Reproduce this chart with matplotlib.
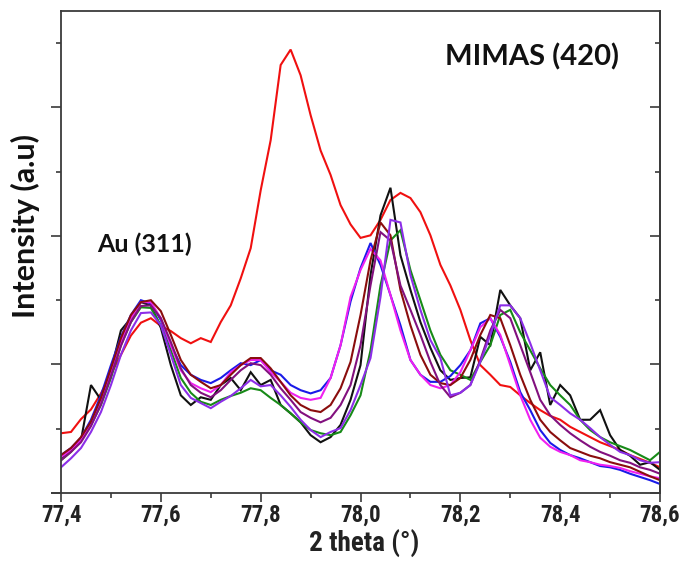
import matplotlib
matplotlib.use("Agg")
import matplotlib.pyplot as plt
from matplotlib import font_manager
from matplotlib.ticker import MultipleLocator, FixedLocator
import numpy as np

# ---------------- data ----------------
two_theta = [77.40, 77.42, 77.44, 77.46, 77.48, 77.50, 77.52, 77.54, 77.56, 77.58,
             77.60, 77.62, 77.64, 77.66, 77.68, 77.70, 77.72, 77.74, 77.76, 77.78,
             77.80, 77.82, 77.84, 77.86, 77.88, 77.90, 77.92, 77.94, 77.96, 77.98,
             78.00, 78.02, 78.04, 78.06, 78.08, 78.10, 78.12, 78.14, 78.16, 78.18,
             78.20, 78.22, 78.24, 78.26, 78.28, 78.30, 78.32, 78.34, 78.36, 78.38,
             78.40, 78.42, 78.44, 78.46, 78.48, 78.50, 78.52, 78.54, 78.56, 78.58,
             78.60]

red = [0.93, 0.95, 1.15, 1.30, 1.55, 1.85, 2.15, 2.45, 2.65, 2.72,
       2.60, 2.52, 2.41, 2.33, 2.41, 2.35, 2.66, 2.92, 3.34, 3.81,
       4.71, 5.49, 6.66, 6.90, 6.50, 5.88, 5.33, 4.95, 4.48, 4.18,
       3.97, 4.01, 4.25, 4.56, 4.67, 4.59, 4.37, 4.01, 3.55, 3.23,
       2.85, 2.38, 1.99, 1.84, 1.68, 1.65, 1.52, 1.40, 1.29, 1.20,
       1.14, 1.03, 0.95, 0.87, 0.79, 0.73, 0.67, 0.59, 0.53, 0.47,
       0.40]

black = [0.54, 0.67, 0.82, 1.68, 1.45, 1.91, 2.53, 2.72, 2.97, 2.92,
         2.57, 1.99, 1.52, 1.37, 1.49, 1.45, 1.68, 1.79, 1.60, 1.88,
         1.68, 1.76, 1.37, 1.24, 1.10, 0.90, 0.79, 0.87, 1.06, 1.45,
         1.99, 3.39, 4.32, 4.75, 3.70, 3.16, 2.66, 2.26, 1.91, 1.76,
         1.79, 1.80, 2.43, 2.30, 3.16, 2.92, 2.72, 1.91, 2.19, 1.37,
         1.68, 1.52, 1.14, 1.14, 1.29, 0.90, 0.67, 0.58, 0.44, 0.48,
         0.36]

green = [0.51, 0.64, 0.82, 1.06, 1.37, 1.79, 2.30, 2.66, 2.89, 2.88,
         2.61, 2.22, 1.79, 1.56, 1.42, 1.37, 1.45, 1.51, 1.56, 1.63,
         1.60, 1.48, 1.37, 1.24, 1.10, 0.98, 0.93, 0.90, 0.95, 1.21,
         1.52, 2.22, 3.23, 3.93, 4.09, 3.47, 3.00, 2.53, 2.15, 1.91,
         1.84, 1.76, 2.04, 2.30, 2.77, 2.85, 2.50, 2.22, 1.94, 1.68,
         1.52, 1.37, 1.14, 0.98, 0.87, 0.79, 0.73, 0.67, 0.59, 0.51,
         0.64]

blue = [0.59, 0.70, 0.86, 1.14, 1.52, 1.99, 2.43, 2.77, 3.00, 2.95,
        2.69, 2.30, 1.99, 1.84, 1.76, 1.71, 1.79, 1.91, 2.02, 1.99,
        2.07, 1.91, 1.84, 1.68, 1.60, 1.55, 1.60, 1.79, 2.30, 2.98,
        3.50, 3.89, 3.55, 3.08, 2.61, 2.07, 1.84, 1.73, 1.73, 1.82,
        1.99, 2.22, 2.64, 2.72, 2.43, 2.04, 1.57, 1.29, 0.98, 0.78,
        0.67, 0.59, 0.54, 0.48, 0.42, 0.40, 0.36, 0.30, 0.25, 0.20,
        0.14]

magenta = [0.56, 0.67, 0.82, 1.09, 1.45, 1.88, 2.35, 2.72, 2.97, 2.97,
           2.72, 2.30, 1.91, 1.71, 1.63, 1.57, 1.68, 1.88, 1.99, 2.07,
           2.07, 1.88, 1.73, 1.56, 1.48, 1.45, 1.48, 1.79, 2.30, 3.05,
           3.47, 3.80, 3.62, 3.08, 2.53, 2.07, 1.84, 1.68, 1.63, 1.68,
           1.88, 2.22, 2.58, 2.72, 2.46, 1.99, 1.52, 1.14, 0.86, 0.72,
           0.64, 0.59, 0.51, 0.48, 0.44, 0.42, 0.39, 0.34, 0.30, 0.26,
           0.23]

maroon = [0.59, 0.70, 0.87, 1.11, 1.48, 1.94, 2.41, 2.77, 2.97, 3.00,
          2.83, 2.46, 2.07, 1.84, 1.73, 1.63, 1.68, 1.84, 1.99, 2.10,
          2.10, 1.94, 1.73, 1.52, 1.37, 1.29, 1.26, 1.37, 1.63, 2.04,
          2.77, 3.62, 4.21, 4.01, 3.16, 2.61, 2.15, 1.84, 1.71, 1.68,
          1.79, 2.07, 2.46, 2.77, 2.72, 2.30, 1.84, 1.45, 1.14, 0.95,
          0.82, 0.70, 0.64, 0.58, 0.54, 0.48, 0.44, 0.40, 0.33, 0.26,
          0.20]

purple = [0.51, 0.64, 0.79, 1.04, 1.38, 1.82, 2.29, 2.66, 2.91, 2.92,
          2.72, 2.35, 1.94, 1.68, 1.56, 1.49, 1.60, 1.76, 1.91, 2.02,
          1.99, 1.84, 1.63, 1.45, 1.26, 1.17, 1.10, 1.17, 1.37, 1.68,
          2.30, 3.23, 4.06, 3.93, 3.23, 2.85, 2.46, 2.04, 1.68, 1.49,
          1.56, 1.68, 2.07, 2.53, 2.85, 2.72, 2.30, 1.88, 1.45, 1.21,
          1.06, 0.93, 0.82, 0.72, 0.64, 0.58, 0.51, 0.47, 0.40, 0.36,
          0.30]

violet = [0.40, 0.54, 0.70, 0.95, 1.26, 1.68, 2.15, 2.53, 2.80, 2.81,
          2.61, 2.15, 1.68, 1.48, 1.40, 1.32, 1.42, 1.51, 1.63, 1.76,
          1.66, 1.68, 1.52, 1.34, 1.14, 0.98, 0.87, 0.95, 1.01, 1.29,
          1.68, 2.10, 3.05, 4.25, 4.21, 3.39, 2.85, 2.38, 2.10, 1.52,
          1.56, 1.68, 2.04, 2.46, 2.92, 2.92, 2.72, 2.33, 1.91, 1.49,
          1.37, 1.24, 1.14, 1.01, 0.87, 0.75, 0.64, 0.59, 0.51, 0.47,
          0.48]

series = [
    ("red", red, "#f01010"),
    ("black", black, "#111111"),
    ("green", green, "#178a17"),
    ("blue", blue, "#1a1ae8"),
    ("magenta", magenta, "#f020f0"),
    ("maroon", maroon, "#8a0d0d"),
    ("purple", purple, "#82107e"),
    ("violet", violet, "#8c2ee8"),
]

xtick_values = [77.4, 77.6, 77.8, 78.0, 78.2, 78.4, 78.6]
xtick_labels = ["77,4", "77,6", "77,8", "78,0", "78,2", "78,4", "78,6"]

# ---------------- fonts ----------------
names = {f.name for f in font_manager.fontManager.ttflist}
tick_font = "Liberation Sans"
tick_size = 15
xlab_font = "Liberation Sans"
xlab_size = 17
for cand in ["Liberation Sans Narrow", "Roboto Condensed", "DejaVu Sans Condensed"]:
    if cand in names:
        tick_font = cand
        tick_size = 16.5
        xlab_font = cand
        xlab_size = 19.5
        break
title_font = "Lato" if "Lato" in names else "DejaVu Sans"

# ---------------- figure ----------------
fig = plt.figure(figsize=(6.81, 5.65), dpi=100)
ax = fig.add_axes([0.0896, 0.1274, 0.8796, 0.8531])

for name, vals, col in series:
    ax.plot(two_theta, vals, color=col, lw=1.5, solid_joinstyle="miter")

ax.set_xlim(77.4, 78.6)
ax.set_ylim(0, 7.5)

spine_col = "#3a3a3a"
for s in ax.spines.values():
    s.set_color(spine_col)
    s.set_linewidth(1.3)

ax.xaxis.set_major_locator(FixedLocator(xtick_values))
ax.set_xticklabels(xtick_labels)
ax.xaxis.set_minor_locator(MultipleLocator(0.1))
ax.yaxis.set_major_locator(MultipleLocator(2))
ax.yaxis.set_minor_locator(MultipleLocator(1))
ax.set_yticklabels([])

ax.tick_params(axis="x", which="major", direction="out", length=6.5, width=1.2,
               color=spine_col, pad=1.5, labelsize=tick_size)
ax.tick_params(axis="x", which="minor", direction="out", length=3.3, width=1.2,
               color=spine_col)
ax.tick_params(axis="y", which="major", direction="out", length=7.2, width=1.2,
               color=spine_col, left=True, labelleft=False)
ax.tick_params(axis="y", which="minor", direction="out", length=3.6, width=1.2,
               color=spine_col)
for lab in ax.get_xticklabels():
    lab.set_fontfamily(tick_font)
    lab.set_fontweight("bold")
    lab.set_color("#222222")

sec = ax.secondary_yaxis("right")
sec.yaxis.set_major_locator(MultipleLocator(2))
sec.yaxis.set_minor_locator(MultipleLocator(1))
sec.tick_params(which="major", direction="in", length=7.2, width=1.2, color=spine_col,
                labelright=False)
sec.tick_params(which="minor", direction="in", length=3.6, width=1.2, color=spine_col)
sec.spines["right"].set_color(spine_col)
sec.spines["right"].set_linewidth(1.3)

# x axis line extends a little to the left of the y axis
ax.plot([-0.017, 0], [0, 0], transform=ax.transAxes, color=spine_col, lw=1.3,
        clip_on=False, solid_capstyle="butt")

ax.text(0.786, 0.905, "MIMAS (420)", transform=ax.transAxes, ha="center", va="center",
        fontsize=21, fontweight="bold", fontfamily=title_font, color="#111111")
ax.text(0.14, 0.515, "Au (311)", transform=ax.transAxes, ha="center", va="center",
        fontsize=18, fontweight="bold", fontfamily=title_font, color="#111111")

fig.text(25 / 681, 1 - 226 / 565, "Intensity (a.u)", rotation=90, ha="center", va="center",
         fontsize=22, fontweight="bold", fontfamily=title_font, color="#111111")
fig.text(364 / 681, 1 - 544 / 565, "2 theta (°)", ha="center", va="center",
         fontsize=xlab_size, fontweight="bold", fontfamily=xlab_font, color="#222222")

fig.savefig("out.png", dpi=100, facecolor="white")
